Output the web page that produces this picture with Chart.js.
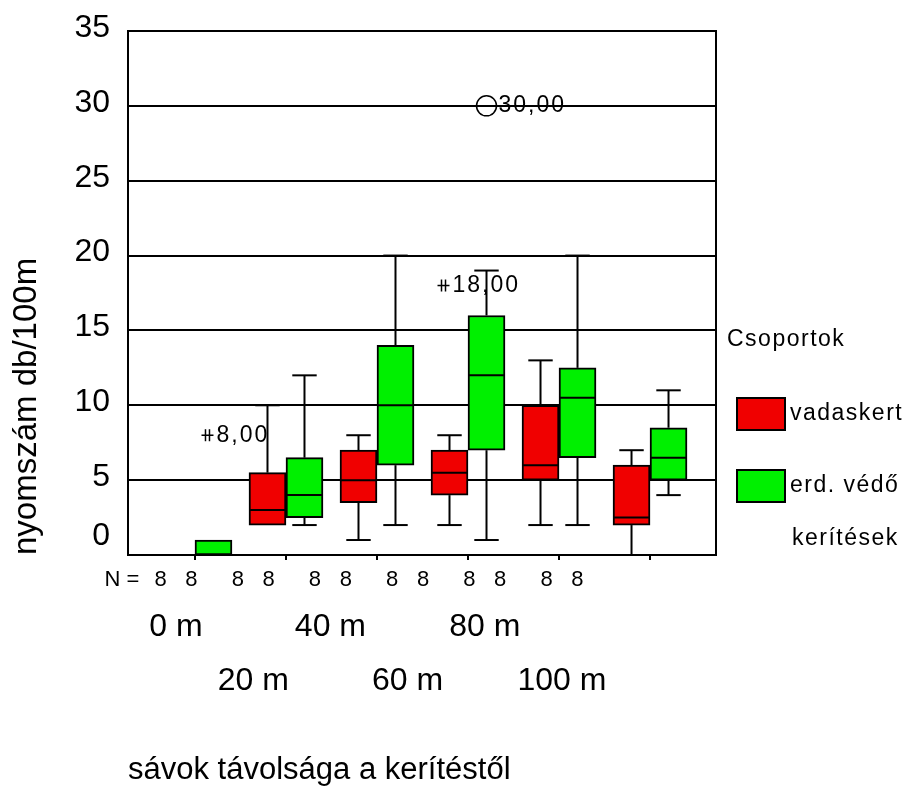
<!DOCTYPE html>
<html>
<head>
<meta charset="utf-8">
<script src="https://cdn.jsdelivr.net/npm/chart.js@4.4.1/dist/chart.umd.min.js"></script>
<style>
  html, body { margin: 0; padding: 0; background: #fff; }
  #wrap { width: 904px; height: 787px; position: relative; }
</style>
</head>
<body>
<div id="wrap"><canvas id="chart"></canvas></div>
<script>
// distance bands (categories)
const GROUPS = ['0 m', '20 m', '40 m', '60 m', '80 m', '100 m'];
const N_COUNTS = [[8, 8], [8, 8], [8, 8], [8, 8], [8, 8], [8, 8]];
const Y_TICKS = [0, 5, 10, 15, 20, 25, 30, 35];

// vadaskert
const RED_MIN = [0, 2, 1, 2, 2, 0];
const RED_Q1 = [0, 2, 3.5, 4, 5, 2];
const RED_MED = [0, 3, 5, 5.5, 6, 2.5];
const RED_Q3 = [0, 5.5, 7, 7, 10, 6];
const RED_MAX = [0, 10, 8, 8, 13, 7];
const RED_OUT = [[3, 18, 'extreme']];

// erd. védő kerítések
const GREEN_MIN = [0, 2, 2, 1, 2, 4];
const GREEN_Q1 = [0, 2.5, 6, 7, 6.5, 5];
const GREEN_MED = [0, 4, 10, 12, 10.5, 6.5];
const GREEN_Q3 = [1, 6.5, 14, 16, 12.5, 8.5];
const GREEN_MAX = [1, 12, 20, 19, 20, 11];
const GREEN_OUT = [[0, 8, 'extreme'], [3, 30, 'outlier']];

const LEGEND_TITLE = 'Csoportok';
const LEGEND_LABELS = [['vadaskert'], ['erd. védő', 'kerítések']];

const RED = 'rgb(240,0,0)';
const GREEN = 'rgb(0,240,0)';
const FONT = "'Liberation Sans', Arial, sans-serif";

const SERIES = [
    { label: 'vadaskert', color: RED, min: RED_MIN, q1: RED_Q1, med: RED_MED, q3: RED_Q3, max: RED_MAX, out: RED_OUT },
    { label: 'erd. védő kerítések', color: GREEN, min: GREEN_MIN, q1: GREEN_Q1, med: GREEN_MED, q3: GREEN_Q3, max: GREEN_MAX, out: GREEN_OUT }
];

Chart.defaults.font.family = FONT;
Chart.defaults.color = '#000';

// fixed axis box sizes so the plot area lands where the original has it
const fixBox = (w, h) => (axis) => {
    if (w != null) axis.width = w;
    if (h != null) axis.height = h;
    axis.paddingLeft = axis.paddingRight = axis.paddingTop = axis.paddingBottom = 0;
};

const fmt = (v) => v.toFixed(2).replace('.', ',');

const boxplotPlugin = {
    id: 'boxplot',
    afterDatasetsDraw(chart) {
        const { ctx, scales: { y } } = chart;
        ctx.save();
        ctx.strokeStyle = '#000';
        ctx.lineCap = 'butt';
        const line = (x1, y1, x2, y2, w) => {
            ctx.lineWidth = w || 2;
            ctx.beginPath();
            ctx.moveTo(x1, y1);
            ctx.lineTo(x2, y2);
            ctx.stroke();
        };
        SERIES.forEach((s, d) => {
            chart.getDatasetMeta(d).data.forEach((bar, i) => {
                const { x: cx, width } = bar.getProps(['x', 'width'], true);
                const half = width / 2;
                const cap = width * 0.33;
                const yMax = y.getPixelForValue(s.max[i]);
                const yMin = y.getPixelForValue(s.min[i]);
                const yQ1 = y.getPixelForValue(s.q1[i]);
                const yQ3 = y.getPixelForValue(s.q3[i]);
                const yMed = y.getPixelForValue(s.med[i]);
                if (s.max[i] > s.q3[i]) {
                    line(cx, yQ3, cx, yMax);
                    line(cx - cap, yMax, cx + cap, yMax);
                }
                if (s.min[i] < s.q1[i]) {
                    line(cx, yQ1, cx, yMin);
                    line(cx - cap, yMin, cx + cap, yMin);
                }
                line(cx - half + 1, yMed, cx + half - 1, yMed);
            });

            // outliers (o) and extremes (*) with their value labels
            s.out.forEach(([i, v, kind]) => {
                const bar = chart.getDatasetMeta(d).data[i];
                const cx = bar.x;
                const py = y.getPixelForValue(v);
                ctx.font = '23px ' + FONT;
                ctx.letterSpacing = '2px';
                ctx.fillStyle = '#000';
                ctx.textAlign = 'left';
                ctx.textBaseline = 'middle';
                if (kind === 'extreme') {
                    const mx = cx - 6;
                    line(mx - 6, py, mx + 6, py, 1.5);
                    line(mx - 2, py - 6, mx - 2, py + 6, 1.5);
                    line(mx + 2, py - 6, mx + 2, py + 6, 1.5);
                    ctx.fillText(fmt(v), cx + 3, py);
                } else {
                    ctx.lineWidth = 1.5;
                    ctx.beginPath();
                    ctx.arc(cx, py, 10, 0, Math.PI * 2);
                    ctx.stroke();
                    ctx.fillText(fmt(v), cx + 12, py);
                }
                ctx.letterSpacing = '0px';
            });
        });
        ctx.restore();
    },
    afterDraw(chart) {
        const { ctx, chartArea: a, scales: { xn } } = chart;
        ctx.save();
        // frame around the plot
        ctx.strokeStyle = '#000';
        ctx.lineWidth = 2;
        ctx.strokeRect(a.left, a.top, a.right - a.left, a.bottom - a.top);

        ctx.fillStyle = '#000';
        ctx.textBaseline = 'middle';

        // "N =" in front of the counts row
        ctx.font = '22px ' + FONT;
        ctx.textAlign = 'center';
        ctx.fillText('N =', xn.getPixelForValue(-0.7), xn.top + 6 + 13.2);

        // legend
        const L = a.right;
        ctx.textAlign = 'left';
        ctx.font = '23px ' + FONT;
        ctx.letterSpacing = '1.5px';
        ctx.fillText(LEGEND_TITLE, L + 11, 340);
        const boxTops = [398, 470];
        SERIES.forEach((s, d) => {
            const top = boxTops[d];
            ctx.fillStyle = s.color;
            ctx.fillRect(L + 21, top, 48, 32);
            ctx.strokeRect(L + 21, top, 48, 32);
            ctx.fillStyle = '#000';
            LEGEND_LABELS[d].forEach((t, k) => {
                ctx.fillText(t, L + 74 + (k ? 2 : 0), top + 16 + k * 53);
            });
        });
        ctx.restore();
    }
};

new Chart(document.getElementById('chart'), {
    type: 'bar',
    data: {
        datasets: SERIES.map((s) => ({
            label: s.label,
            data: GROUPS.map((_, i) => ({ x: i, y: [s.q1[i], s.q3[i]] })),
            backgroundColor: s.color,
            borderColor: '#000',
            borderWidth: 2,
            borderSkipped: false,
            barThickness: 37,
            xAxisID: 'x',
            yAxisID: 'y'
        }))
    },
    options: {
        responsive: true,
        maintainAspectRatio: false,
        animation: false,
        layout: { padding: { top: 31, right: 188, left: 0, bottom: 0 } },
        plugins: {
            legend: { display: false },
            tooltip: { enabled: false }
        },
        scales: {
            y: {
                type: 'linear',
                min: 0,
                max: 35,
                afterBuildTicks: (axis) => {
                    // the "0" label sits above the axis line in the original
                    axis.ticks = Y_TICKS.map((v) => ({ value: v === 0 ? 1.07 : v }));
                },
                afterFit: fixBox(128, null),
                ticks: {
                    font: { size: 32 },
                    padding: 18,
                    labelOffset: -3,
                    callback: (value, i) => String(Y_TICKS[i])
                },
                grid: {
                    drawTicks: false,
                    lineWidth: 2,
                    color: (c) => (c.tick && c.tick.value < 5 ? 'rgba(0,0,0,0)' : '#000')
                },
                border: { display: true, color: '#000', width: 2 },
                title: {
                    display: true,
                    text: 'nyomszám db/100m',
                    align: 'start',
                    font: { size: 33 },
                    padding: { top: 7, bottom: 0 }
                }
            },
            x: {
                type: 'linear',
                position: 'bottom',
                weight: 0,
                offset: false,
                min: -0.736,
                max: 5.725,
                afterBuildTicks: (axis) => { axis.ticks = GROUPS.map((_, i) => ({ value: i })); },
                afterFit: fixBox(null, 6),
                ticks: { display: false },
                grid: { offset: false, drawOnChartArea: false, drawTicks: true, tickLength: 5, color: '#000', lineWidth: 2 },
                border: { display: true, color: '#000', width: 2 }
            },
            xn: {
                type: 'linear',
                position: 'bottom',
                weight: 1,
                offset: false,
                min: -0.622,
                max: 6.995,
                afterBuildTicks: (axis) => {
                    axis.ticks = GROUPS.flatMap((_, i) => [{ value: i - 0.2 }, { value: i + 0.2 }]);
                },
                afterFit: fixBox(null, 30),
                ticks: {
                    font: { size: 22 },
                    padding: 6,
                    autoSkip: false,
                    maxRotation: 0,
                    minRotation: 0,
                    callback: (value, i) => String(N_COUNTS[Math.floor(i / 2)][i % 2])
                },
                grid: { display: false, offset: false, drawTicks: false },
                border: { display: false }
            },
            xg: {
                type: 'linear',
                position: 'bottom',
                weight: 2,
                offset: false,
                min: -0.622,
                max: 6.995,
                afterBuildTicks: (axis) => { axis.ticks = GROUPS.map((_, i) => ({ value: i })); },
                afterFit: fixBox(null, 196),
                ticks: {
                    font: { size: 32, lineHeight: '54px' },
                    padding: 9,
                    autoSkip: false,
                    maxRotation: 0,
                    minRotation: 0,
                    callback: (value, i) => (i % 2 === 0 ? [GROUPS[i], ''] : ['', GROUPS[i]])
                },
                grid: { display: false, offset: false, drawTicks: false },
                border: { display: false },
                title: {
                    display: true,
                    text: 'sávok távolsága a kerítéstől',
                    align: 'start',
                    font: { size: 31, lineHeight: 1 },
                    padding: { top: 0, bottom: 1 }
                }
            }
        }
    },
    plugins: [boxplotPlugin]
});
</script>
</body>
</html>
